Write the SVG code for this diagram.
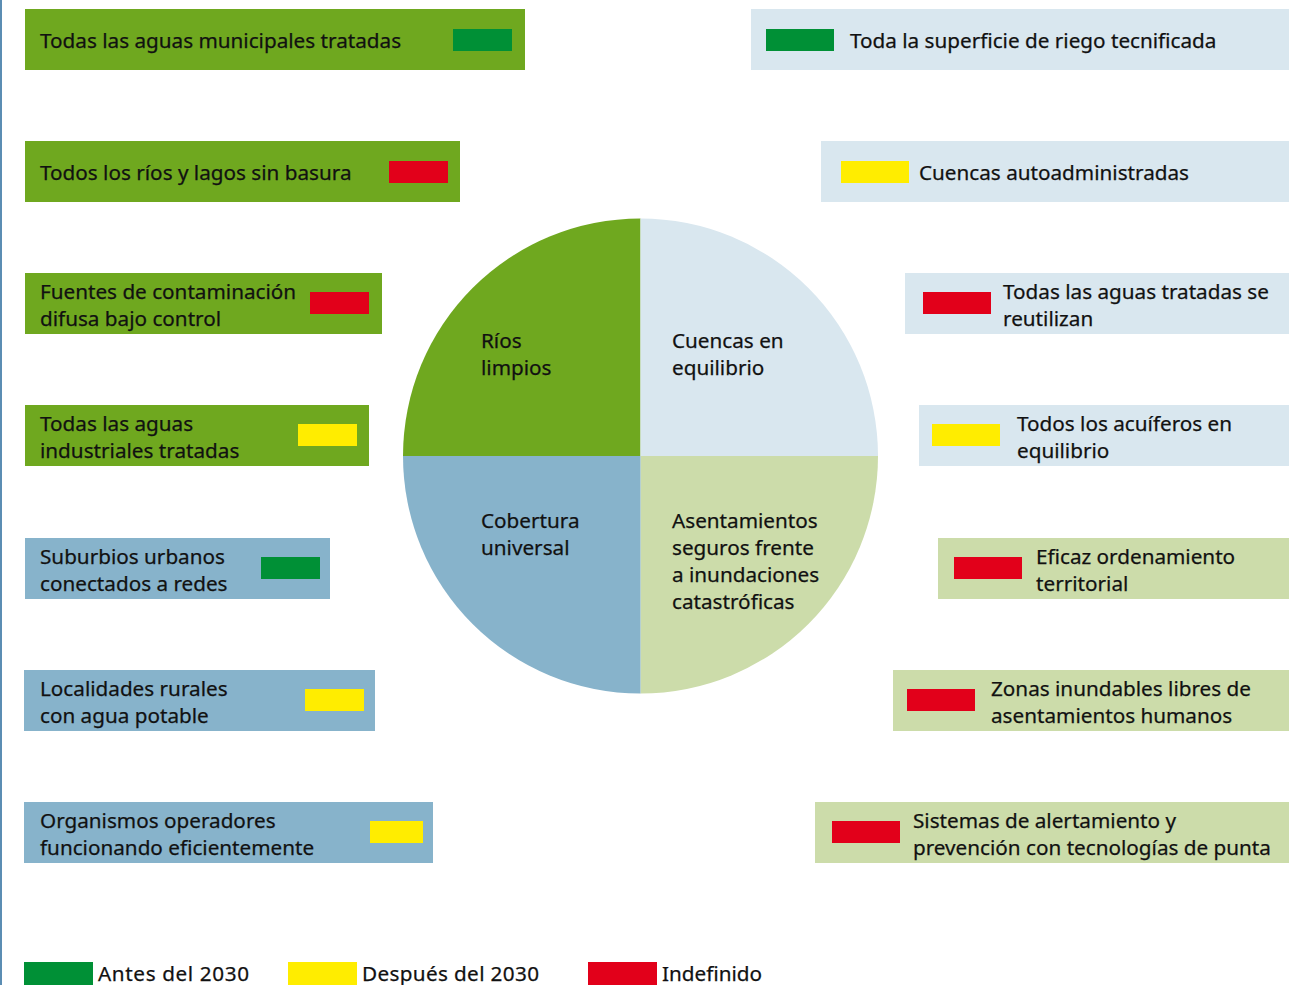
<svg xmlns="http://www.w3.org/2000/svg" width="1289" height="985" viewBox="0 0 1289 985">
  <style>
    .t { font-family: "Noto Sans", "Open Sans", sans-serif; font-size: 20.7px; fill: #111; stroke: #111; stroke-width: 0.25px; }
    .green { fill: #6fa81f; }
    .pale { fill: #d9e7ef; }
    .steel { fill: #87b3cb; }
    .sage { fill: #ccdcaa; }
    .early { fill: #009036; }
    .late { fill: #ffed00; }
    .open { fill: #e2001a; }
  </style>
  <rect x="0" y="0" width="1289" height="985" fill="#ffffff"/>
  <rect x="0" y="0" width="2" height="985" fill="#5b8db3"/>

  <!-- central wheel -->
  <g id="wheel">
    <path class="green" d="M640.5 456 L403 456 A237.5 237.5 0 0 1 640.5 218.5 Z"/>
    <path class="pale" d="M640.5 456 L640.5 218.5 A237.5 237.5 0 0 1 878 456 Z"/>
    <path class="sage" d="M640.5 456 L878 456 A237.5 237.5 0 0 1 640.5 693.5 Z"/>
    <path class="steel" d="M640.5 456 L640.5 693.5 A237.5 237.5 0 0 1 403 456 Z"/>
    <text class="t" x="481" y="348">Ríos</text>
    <text class="t" x="481" y="375">limpios</text>
    <text class="t" x="672" y="348">Cuencas en</text>
    <text class="t" x="672" y="375">equilibrio</text>
    <text class="t" x="481" y="528">Cobertura</text>
    <text class="t" x="481" y="555">universal</text>
    <text class="t" x="672" y="528">Asentamientos</text>
    <text class="t" x="672" y="555">seguros frente</text>
    <text class="t" x="672" y="582">a inundaciones</text>
    <text class="t" x="672" y="609">catastróficas</text>
  </g>

  <!-- left column -->
  <g id="L1">
    <rect class="green" x="25" y="9" width="500" height="61"/>
    <rect class="early" x="453" y="29" width="59" height="22"/>
    <text class="t" x="40" y="48">Todas las aguas municipales tratadas</text>
  </g>
  <g id="L2">
    <rect class="green" x="25" y="141" width="435" height="61"/>
    <rect class="open" x="389" y="161" width="59" height="22"/>
    <text class="t" x="40" y="180">Todos los ríos y lagos sin basura</text>
  </g>
  <g id="L3">
    <rect class="green" x="25" y="273" width="357" height="61"/>
    <rect class="open" x="310" y="292" width="59" height="22"/>
    <text class="t" x="40" y="299">Fuentes de contaminación</text>
    <text class="t" x="40" y="326">difusa bajo control</text>
  </g>
  <g id="L4">
    <rect class="green" x="25" y="405" width="344" height="61"/>
    <rect class="late" x="298" y="424" width="59" height="22"/>
    <text class="t" x="40" y="431">Todas las aguas</text>
    <text class="t" x="40" y="458">industriales tratadas</text>
  </g>
  <g id="L5">
    <rect class="steel" x="25" y="538" width="305" height="61"/>
    <rect class="early" x="261" y="557" width="59" height="22"/>
    <text class="t" x="40" y="564">Suburbios urbanos</text>
    <text class="t" x="40" y="591">conectados a redes</text>
  </g>
  <g id="L6">
    <rect class="steel" x="24" y="670" width="351" height="61"/>
    <rect class="late" x="305" y="689" width="59" height="22"/>
    <text class="t" x="40" y="696">Localidades rurales</text>
    <text class="t" x="40" y="723">con agua potable</text>
  </g>
  <g id="L7">
    <rect class="steel" x="24" y="802" width="409" height="61"/>
    <rect class="late" x="370" y="821" width="53" height="22"/>
    <text class="t" x="40" y="828">Organismos operadores</text>
    <text class="t" x="40" y="855">funcionando eficientemente</text>
  </g>

  <!-- right column -->
  <g id="R1">
    <rect class="pale" x="751" y="9" width="538" height="61"/>
    <rect class="early" x="766" y="29" width="68" height="22"/>
    <text class="t" x="850" y="48">Toda la superficie de riego tecnificada</text>
  </g>
  <g id="R2">
    <rect class="pale" x="821" y="141" width="468" height="61"/>
    <rect class="late" x="841" y="161" width="68" height="22"/>
    <text class="t" x="919" y="180">Cuencas autoadministradas</text>
  </g>
  <g id="R3">
    <rect class="pale" x="905" y="273" width="384" height="61"/>
    <rect class="open" x="923" y="292" width="68" height="22"/>
    <text class="t" x="1003" y="299">Todas las aguas tratadas se</text>
    <text class="t" x="1003" y="326">reutilizan</text>
  </g>
  <g id="R4">
    <rect class="pale" x="919" y="405" width="370" height="61"/>
    <rect class="late" x="932" y="424" width="68" height="22"/>
    <text class="t" x="1017" y="431">Todos los acuíferos en</text>
    <text class="t" x="1017" y="458">equilibrio</text>
  </g>
  <g id="R5">
    <rect class="sage" x="938" y="538" width="351" height="61"/>
    <rect class="open" x="954" y="557" width="68" height="22"/>
    <text class="t" x="1036" y="564">Eficaz ordenamiento</text>
    <text class="t" x="1036" y="591">territorial</text>
  </g>
  <g id="R6">
    <rect class="sage" x="893" y="670" width="396" height="61"/>
    <rect class="open" x="907" y="689" width="68" height="22"/>
    <text class="t" x="991" y="696">Zonas inundables libres de</text>
    <text class="t" x="991" y="723">asentamientos humanos</text>
  </g>
  <g id="R7">
    <rect class="sage" x="815" y="802" width="474" height="61"/>
    <rect class="open" x="832" y="821" width="68" height="22"/>
    <text class="t" x="913" y="828">Sistemas de alertamiento y</text>
    <text class="t" x="913" y="855">prevención con tecnologías de punta</text>
  </g>

  <!-- legend -->
  <g id="legend">
    <rect class="early" x="24" y="962" width="69" height="23"/>
    <text class="t" x="98" y="981" textLength="151">Antes del 2030</text>
    <rect class="late" x="288" y="962" width="69" height="23"/>
    <text class="t" x="362" y="981" textLength="177">Después del 2030</text>
    <rect class="open" x="588" y="962" width="69" height="23"/>
    <text class="t" x="662" y="981">Indefinido</text>
  </g>

  <!-- no connectors in this figure -->
  <g id="connectors"/>
</svg>
